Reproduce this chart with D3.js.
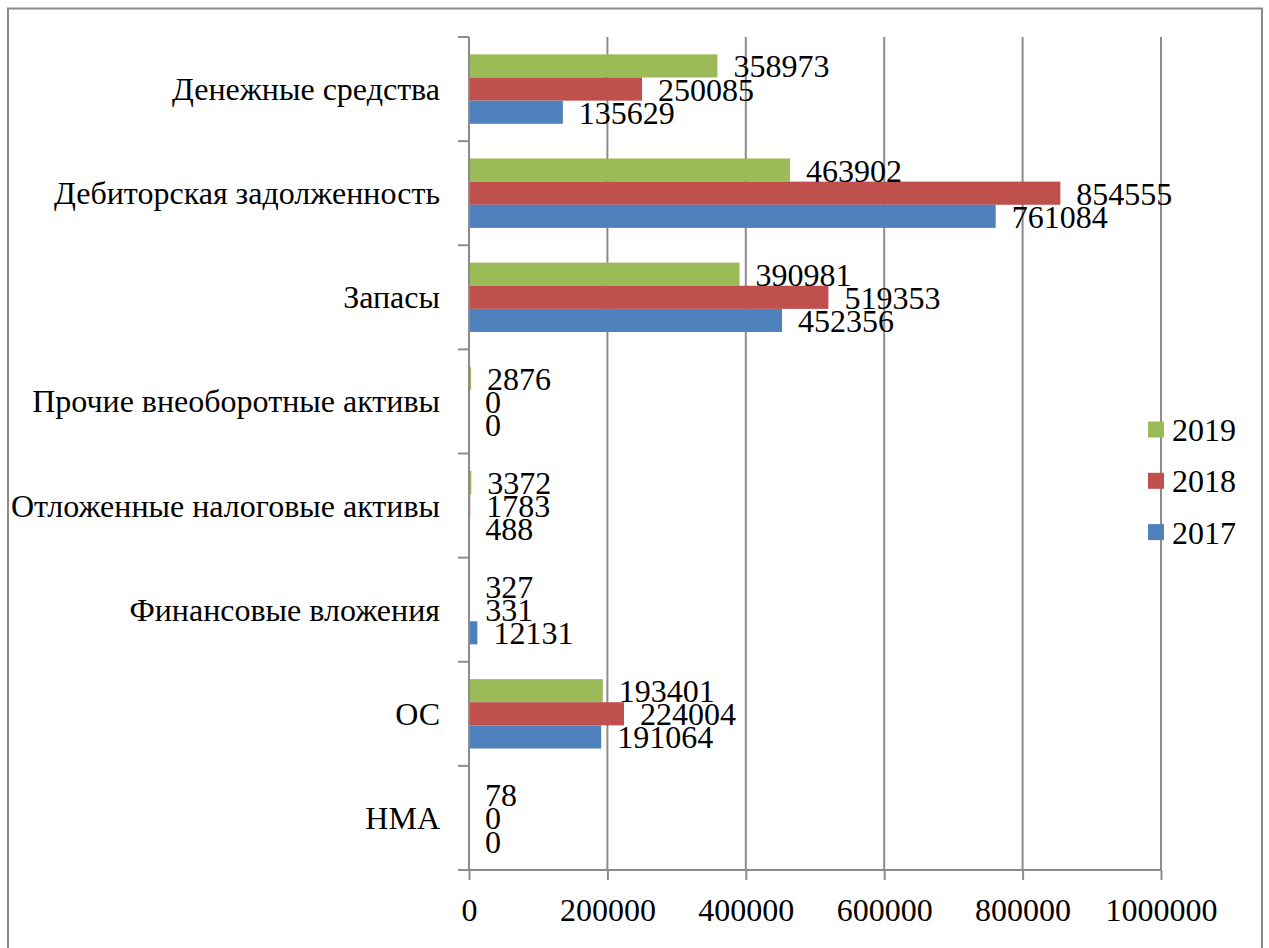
<!DOCTYPE html>
<html>
<head>
<meta charset="utf-8">
<script src="https://cdn.jsdelivr.net/npm/d3@7"></script>
<style>
  html, body { margin: 0; padding: 0; background: #fff; }
</style>
</head>
<body>
<svg id="chart" width="1269" height="948"></svg>
<script>
// Balance-sheet asset items, listed top to bottom
const categories = [
  "Денежные средства",
  "Дебиторская задолженность",
  "Запасы",
  "Прочие внеоборотные активы",
  "Отложенные налоговые активы",
  "Финансовые вложения",
  "ОС",
  "НМА"
];
const years = ["2019", "2018", "2017"];
const values2019 = [358973, 463902, 390981, 2876, 3372, 327, 193401, 78];
const values2018 = [250085, 854555, 519353, 0, 1783, 331, 224004, 0];
const values2017 = [135629, 761084, 452356, 0, 488, 12131, 191064, 0];
const xTicks = [0, 200000, 400000, 600000, 800000, 1000000];
const colors = { "2019": "#9BBB59", "2018": "#C0504D", "2017": "#4F81BD" };

const seriesValues = { "2019": values2019, "2018": values2018, "2017": values2017 };

const FONT = '"Liberation Serif"';
const FS = 32;
const svg = d3.select("#chart");
const plot = { left: 469, right: 1161, top: 37, bottom: 870 };
const gridColor = "#8c8c8c";

// outer chart frame
svg.append("rect")
  .attr("x", 8).attr("y", 8.5)
  .attr("width", 1254).attr("height", 960)
  .attr("fill", "none").attr("stroke", "#8a8a8a").attr("stroke-width", 2);

const x = d3.scaleLinear().domain([0, 1000000]).range([plot.left, plot.right]);
const y = d3.scaleBand().domain(categories).range([plot.top, plot.bottom]).padding(0);
const ySub = d3.scaleBand().domain(years).range([0, y.bandwidth()])
  .paddingInner(0).paddingOuter(0.75);

// vertical gridlines
svg.append("g").selectAll("line").data(xTicks.slice(1)).join("line")
  .attr("x1", d => x(d)).attr("x2", d => x(d))
  .attr("y1", plot.top).attr("y2", plot.bottom)
  .attr("stroke", gridColor).attr("stroke-width", 2);

// bars
const groups = svg.append("g").selectAll("g").data(categories).join("g")
  .attr("transform", d => `translate(0,${y(d)})`);

groups.selectAll("rect")
  .data((c, i) => years.map(yr => ({ yr, v: seriesValues[yr][i] })))
  .join("rect")
  .attr("x", x(0))
  .attr("y", d => ySub(d.yr))
  .attr("width", d => x(d.v) - x(0))
  .attr("height", ySub.bandwidth())
  .attr("fill", d => colors[d.yr]);

// value labels
groups.selectAll("text")
  .data((c, i) => years.map(yr => ({ yr, v: seriesValues[yr][i] })))
  .join("text")
  .attr("x", d => x(d.v) + 16)
  .attr("y", d => ySub(d.yr) + ySub.bandwidth() / 2 + 11.5)
  .style("font-family", FONT)
  .style("font-size", FS + "px")
  .text(d => d.v);

// x axis
const xAxis = d3.axisBottom(x).tickValues(xTicks).tickSize(10).tickFormat(d3.format("d"));
const gx = svg.append("g").attr("transform", `translate(0,${plot.bottom})`).call(xAxis);
gx.select(".domain").attr("stroke", gridColor).attr("stroke-width", 2)
  .attr("d", `M${plot.left},0H${plot.right}`);
gx.selectAll(".tick line").attr("stroke", gridColor).attr("stroke-width", 2);
gx.selectAll(".tick text").attr("dy", null).attr("y", 51).attr("fill", "#000")
  .style("font-family", FONT).style("font-size", FS + "px");

// y axis with ticks on category boundaries
const ga = svg.append("g");
ga.append("line")
  .attr("x1", plot.left).attr("x2", plot.left)
  .attr("y1", plot.top).attr("y2", plot.bottom)
  .attr("stroke", gridColor).attr("stroke-width", 2);
const bounds = categories.map(c => y(c)).concat([plot.bottom]);
ga.selectAll("line.tick").data(bounds).join("line").attr("class", "tick")
  .attr("x1", plot.left - 11).attr("x2", plot.left)
  .attr("y1", d => d).attr("y2", d => d)
  .attr("stroke", gridColor).attr("stroke-width", 2);

// category labels
svg.append("g").selectAll("text").data(categories).join("text")
  .attr("x", 440)
  .attr("y", d => y(d) + y.bandwidth() / 2 + 11)
  .attr("text-anchor", "end")
  .style("font-family", FONT)
  .style("font-size", FS + "px")
  .text(d => d);

// legend
const legend = svg.append("g").selectAll("g").data(years).join("g")
  .attr("transform", (d, i) => `translate(1148,${421.5 + i * 51.3})`);
legend.append("rect").attr("width", 16).attr("height", 16).attr("fill", d => colors[d]);
legend.append("text").attr("x", 24).attr("y", 19.5)
  .style("font-family", FONT).style("font-size", FS + "px").text(d => d);
</script>
</body>
</html>
